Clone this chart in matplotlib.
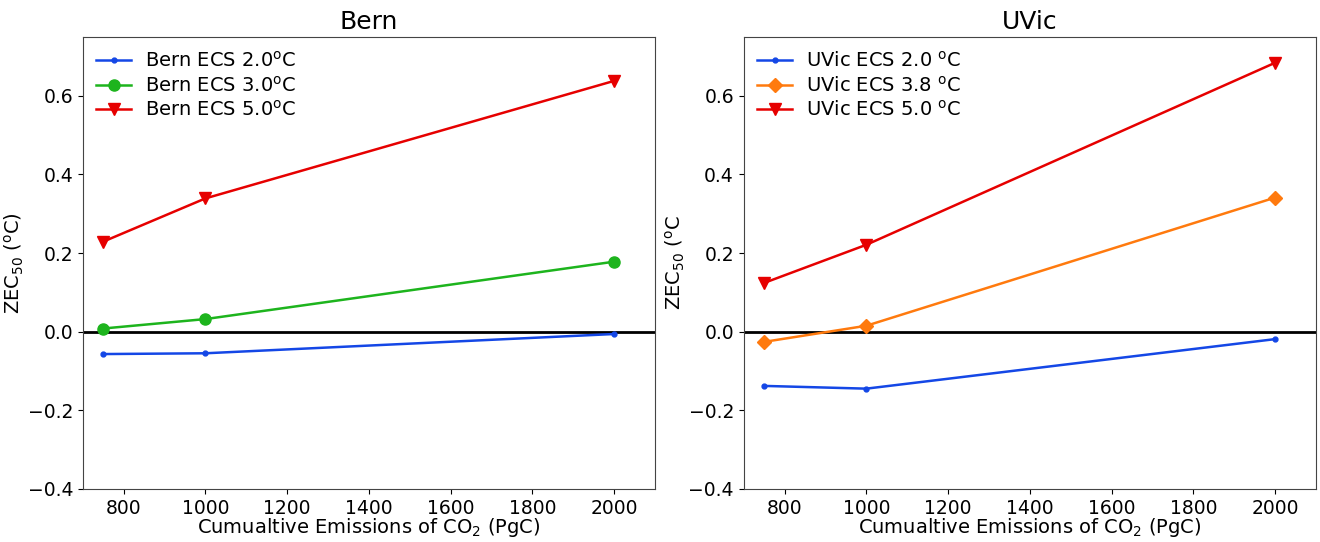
import numpy as np
import matplotlib.pyplot as plt

# cumulative emissions (PgC)
emissions = [750, 1000, 2000]

# ZEC50 values (degC)
bern_ecs20 = [-0.057, -0.055, -0.006]
bern_ecs30 = [0.008, 0.032, 0.178]
bern_ecs50 = [0.229, 0.339, 0.638]

uvic_ecs20 = [-0.138, -0.145, -0.019]
uvic_ecs38 = [-0.026, 0.015, 0.341]
uvic_ecs50 = [0.124, 0.221, 0.684]

blue = '#1447e6'
green = '#1db41d'
red = '#e60000'
orange = '#ff7a0e'

plt.rcParams['font.family'] = 'DejaVu Sans'
plt.rcParams['font.size'] = 14
plt.rcParams['xtick.labelsize'] = 13.5
plt.rcParams['ytick.labelsize'] = 13.5
plt.rcParams['mathtext.default'] = 'regular'

fig = plt.figure(figsize=(13.2, 5.42), dpi=100)
ax1 = fig.add_axes([0.0627, 0.098, 0.4335, 0.834])
ax2 = fig.add_axes([0.5634, 0.098, 0.4335, 0.834])

# Bern panel
ax1.plot(emissions, bern_ecs20, '.-', color=blue, ms=7, lw=1.8, label='Bern ECS 2.0$^o$C')
ax1.plot(emissions, bern_ecs30, 'o-', color=green, ms=8, lw=1.8, label='Bern ECS 3.0$^o$C')
ax1.plot(emissions, bern_ecs50, 'v-', color=red, ms=8, lw=1.8, label='Bern ECS 5.0$^o$C')
ax1.set_title('Bern', fontsize=18)
ax1.set_ylabel('ZEC$_{50}$ ($^o$C)', labelpad=1)

# UVic panel
ax2.plot(emissions, uvic_ecs20, '.-', color=blue, ms=7, lw=1.8, label='UVic ECS 2.0 $^o$C')
ax2.plot(emissions, uvic_ecs38, 'D-', color=orange, ms=7, lw=1.8, label='UVic ECS 3.8 $^o$C')
ax2.plot(emissions, uvic_ecs50, 'v-', color=red, ms=8, lw=1.8, label='UVic ECS 5.0 $^o$C')
ax2.set_title('UVic', fontsize=18)
ax2.set_ylabel('ZEC$_{50}$ ($^o$C', labelpad=1)

for ax in (ax1, ax2):
    ax.axhline(0, color='black', lw=2, zorder=1)
    ax.set_xlim(700, 2100)
    ax.set_ylim(-0.4, 0.75)
    ax.set_yticks([-0.4, -0.2, 0.0, 0.2, 0.4, 0.6])
    ax.set_xticks([800, 1000, 1200, 1400, 1600, 1800, 2000])
    ax.set_xlabel('Cumualtive Emissions of CO$_2$ (PgC)', labelpad=-1)
    ax.legend(loc='upper left', frameon=False, handlelength=1.8,
              handletextpad=0.7, labelspacing=0.25, borderaxespad=0.3)
    for s in ax.spines.values():
        s.set_color('#444444')

fig.savefig('out.png', dpi=100)
